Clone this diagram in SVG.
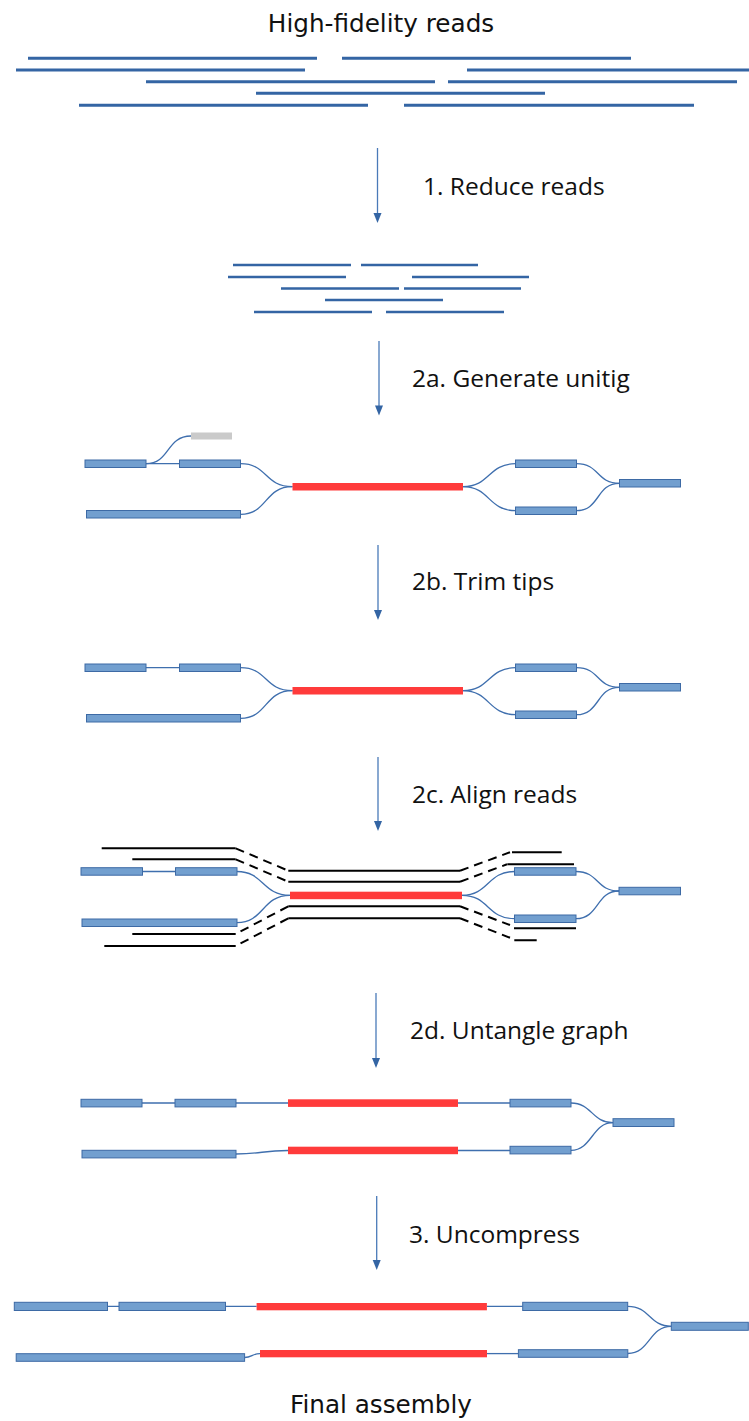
<svg xmlns="http://www.w3.org/2000/svg" width="749" height="1421" viewBox="0 0 749 1421">
<style>
.title{font-family:"DejaVu Sans",sans-serif;font-size:24.7px;fill:#111;text-anchor:middle}
.step{font-family:"Open Sans","Noto Sans",sans-serif;font-size:24.5px;fill:#111}
.read{stroke:#3465a4;stroke-width:3;fill:none}
.rread{stroke:#3465a4;stroke-width:2.6;fill:none}
.node{fill:#729fcf;stroke:#3d6aa5;stroke-width:1}
.red{fill:#ff3b3b}
.gray{fill:#cacaca}
.conn{fill:none;stroke:#3f6fae;stroke-width:1.3}
.blk{fill:none;stroke:#000;stroke-width:2}
.dash{fill:none;stroke:#000;stroke-width:2;stroke-dasharray:9 6}
.arrow{stroke:#4a7ab8;stroke-width:1.3;fill:none}
.head{fill:#3465a4}
</style>

<g id="title-top"><text class="title" x="381" y="32">High-fidelity reads</text></g>
<g id="title-bottom"><text class="title" x="381" y="1413">Final assembly</text></g>

<g id="reads-hifi">
<path class="read" d="M28,58.3H317M342,58.3H631M16,70H305M467,70H749M146,81.7H435M448,81.7H737M256,93.3H545M79,105.3H368M404,105.3H694"/>
</g>
<g id="reads-reduced">
<path class="rread" d="M233,265H351M361,265H478M228,277H346M412,277H529M281,288.5H399M404,288.5H521M325,300H443M254,312H372M386,312H504"/>
</g>

<g id="steps">
<text class="step" x="423" y="195">1. Reduce reads</text>
<text class="step" x="412" y="387">2a. Generate unitig</text>
<text class="step" x="412" y="590">2b. Trim tips</text>
<text class="step" x="412" y="803">2c. Align reads</text>
<text class="step" x="410" y="1039">2d. Untangle graph</text>
<text class="step" x="409" y="1243">3. Uncompress</text>
</g>

<g id="arrows">
<path class="arrow" d="M377.5,148V214"/><path class="head" d="M373.5,213H381.5L377.5,223Z"/>
<path class="arrow" d="M379,341V406"/><path class="head" d="M375,405.5H383L379,415.5Z"/>
<path class="arrow" d="M378,545V610"/><path class="head" d="M374,610H382L378,620Z"/>
<path class="arrow" d="M378,757V821"/><path class="head" d="M374,821H382L378,831Z"/>
<path class="arrow" d="M376,993V1058"/><path class="head" d="M372,1058H380L376,1068Z"/>
<path class="arrow" d="M376.7,1196V1260"/><path class="head" d="M372.7,1260H380.7L376.7,1270Z"/>
</g>

<!-- Step 2a graph -->
<g id="g2a-connectors">
<path class="conn" d="M146,463.7H179.5"/>
<path class="conn" d="M146,463.7C170,463.7 166,436 191,436"/>
<path class="conn" d="M240.5,463.7C268,463.7 264,486.7 292.5,486.7"/>
<path class="conn" d="M240.5,514.3C268,514.3 264,486.7 292.5,486.7"/>
<path class="conn" d="M463,486.7C490,486.7 488,463.7 515.5,463.7"/>
<path class="conn" d="M463,486.7C490,486.7 488,510.7 515.5,510.7"/>
<path class="conn" d="M576.5,463.7C600,463.7 596,483.3 619.5,483.3"/>
<path class="conn" d="M576.5,510.7C600,510.7 596,483.3 619.5,483.3"/>
</g>
<g id="g2a-A"><rect class="node" x="85" y="460" width="61" height="7.5"/></g>
<g id="g2a-B"><rect class="node" x="179.5" y="460" width="61" height="7.5"/></g>
<g id="g2a-tip"><rect class="gray" x="191" y="432.5" width="41" height="7"/></g>
<g id="g2a-C"><rect class="node" x="86.5" y="510.5" width="154" height="7.5"/></g>
<g id="g2a-R"><rect class="red" x="292.5" y="483" width="170.5" height="7.5"/></g>
<g id="g2a-D"><rect class="node" x="515.5" y="460" width="61" height="7.5"/></g>
<g id="g2a-E"><rect class="node" x="515.5" y="507" width="61" height="7.5"/></g>
<g id="g2a-F"><rect class="node" x="619.5" y="479.5" width="61" height="7.5"/></g>

<!-- Step 2b graph -->
<g id="g2b-connectors">
<path class="conn" d="M146,667.7H179.5"/>
<path class="conn" d="M240.5,667.7C268,667.7 264,690.7 292.5,690.7"/>
<path class="conn" d="M240.5,718.3C268,718.3 264,690.7 292.5,690.7"/>
<path class="conn" d="M463,690.7C490,690.7 488,667.7 515.5,667.7"/>
<path class="conn" d="M463,690.7C490,690.7 488,714.7 515.5,714.7"/>
<path class="conn" d="M576.5,667.7C600,667.7 596,687.3 619.5,687.3"/>
<path class="conn" d="M576.5,714.7C600,714.7 596,687.3 619.5,687.3"/>
</g>
<g id="g2b-A"><rect class="node" x="85" y="664" width="61" height="7.5"/></g>
<g id="g2b-B"><rect class="node" x="179.5" y="664" width="61" height="7.5"/></g>
<g id="g2b-C"><rect class="node" x="86.5" y="714.5" width="154" height="7.5"/></g>
<g id="g2b-R"><rect class="red" x="292.5" y="687" width="170.5" height="7.5"/></g>
<g id="g2b-D"><rect class="node" x="515.5" y="664" width="61" height="7.5"/></g>
<g id="g2b-E"><rect class="node" x="515.5" y="711" width="61" height="7.5"/></g>
<g id="g2b-F"><rect class="node" x="619.5" y="683.5" width="61" height="7.5"/></g>

<!-- Step 2c graph -->
<g id="g2c-connectors">
<path class="conn" d="M142.5,871.5H175.5"/>
<path class="conn" d="M237,871.5C264,871.5 262,895.3 290,895.3"/>
<path class="conn" d="M237,922.7C264,922.7 262,895.3 290,895.3"/>
<path class="conn" d="M462,895.3C489,895.3 487,871.5 514.5,871.5"/>
<path class="conn" d="M462,895.3C489,895.3 487,918.7 514.5,918.7"/>
<path class="conn" d="M576,871.5C599,871.5 596,891 619,891"/>
<path class="conn" d="M576,918.7C599,918.7 596,891 619,891"/>
</g>
<g id="g2c-reads">
<path class="blk" d="M101.7,848.3H235.7M288.3,870.7H460M512,852.3H561.7"/>
<path class="dash" d="M235.7,848.3L288.3,870.7M460,870.7L510,852.3"/>
<path class="blk" d="M132.3,859.3H235.7M288.3,881.7H460M507.3,864.3H574"/>
<path class="dash" d="M235.7,859.3L288.3,881.7M460,881.7L507,864.3"/>
<path class="blk" d="M288.3,906.3H460M132.3,934H235.7M514,928.3H576"/>
<path class="dash" d="M288.3,906.3L235.7,934M460,906.3L510,925"/>
<path class="blk" d="M288.3,918.3H460M104.3,946H235.7M514.3,940.3H536.7"/>
<path class="dash" d="M288.3,918.3L235.7,946M460,918.3L510,937.7"/>
</g>
<g id="g2c-A"><rect class="node" x="81" y="867.7" width="61.5" height="7.5"/></g>
<g id="g2c-B"><rect class="node" x="175.5" y="867.7" width="61.5" height="7.5"/></g>
<g id="g2c-C"><rect class="node" x="82" y="919" width="155" height="7.5"/></g>
<g id="g2c-R"><rect class="red" x="290" y="891.7" width="172" height="7.5"/></g>
<g id="g2c-D"><rect class="node" x="514.5" y="867.7" width="61.5" height="7.5"/></g>
<g id="g2c-E"><rect class="node" x="514.5" y="915" width="61.5" height="7.5"/></g>
<g id="g2c-F"><rect class="node" x="619" y="887.3" width="61.5" height="7.5"/></g>

<!-- Step 2d graph -->
<g id="g2d-connectors">
<path class="conn" d="M142,1103H175M236,1103H288M458,1103H510"/>
<path class="conn" d="M236,1154C262,1154 262,1150.5 288,1150.5"/>
<path class="conn" d="M458,1150.5H510"/>
<path class="conn" d="M571,1103C592,1103 592,1122.7 613,1122.7"/>
<path class="conn" d="M571,1150.3C592,1150.3 592,1122.7 613,1122.7"/>
</g>
<g id="g2d-A"><rect class="node" x="81" y="1099.3" width="61" height="7.6"/></g>
<g id="g2d-B"><rect class="node" x="175" y="1099.3" width="61" height="7.6"/></g>
<g id="g2d-R1"><rect class="red" x="288" y="1099.3" width="170" height="7.6"/></g>
<g id="g2d-D"><rect class="node" x="510" y="1099.3" width="61" height="7.6"/></g>
<g id="g2d-C"><rect class="node" x="82" y="1150.3" width="154" height="7.6"/></g>
<g id="g2d-R2"><rect class="red" x="288" y="1146.7" width="170" height="7.5"/></g>
<g id="g2d-E"><rect class="node" x="510" y="1146.3" width="61" height="7.6"/></g>
<g id="g2d-F"><rect class="node" x="613" y="1118.7" width="61" height="7.8"/></g>

<!-- Step 3 graph -->
<g id="g3-connectors">
<path class="conn" d="M107.5,1306.3H119M225.5,1306.3H256.6M487,1306.3H522.7"/>
<path class="conn" d="M244.6,1357.5C252,1357.5 252,1353.6 260,1353.6"/>
<path class="conn" d="M487,1353.6H518.4"/>
<path class="conn" d="M627.8,1306.3C650,1306.3 649,1326.3 671.3,1326.3"/>
<path class="conn" d="M627.8,1353.5C650,1353.5 649,1326.3 671.3,1326.3"/>
</g>
<g id="g3-A"><rect class="node" x="14.3" y="1302.3" width="93.2" height="8.2"/></g>
<g id="g3-B"><rect class="node" x="119" y="1302.3" width="106.5" height="8.2"/></g>
<g id="g3-R1"><rect class="red" x="256.6" y="1303" width="230.3" height="7.3"/></g>
<g id="g3-D"><rect class="node" x="522.7" y="1302.3" width="105" height="8.2"/></g>
<g id="g3-C"><rect class="node" x="16.2" y="1353.7" width="228.4" height="7.6"/></g>
<g id="g3-R2"><rect class="red" x="260" y="1350" width="227" height="7.3"/></g>
<g id="g3-E"><rect class="node" x="518.4" y="1349.7" width="109.4" height="7.6"/></g>
<g id="g3-F"><rect class="node" x="671.3" y="1322.3" width="77" height="8"/></g>
</svg>
